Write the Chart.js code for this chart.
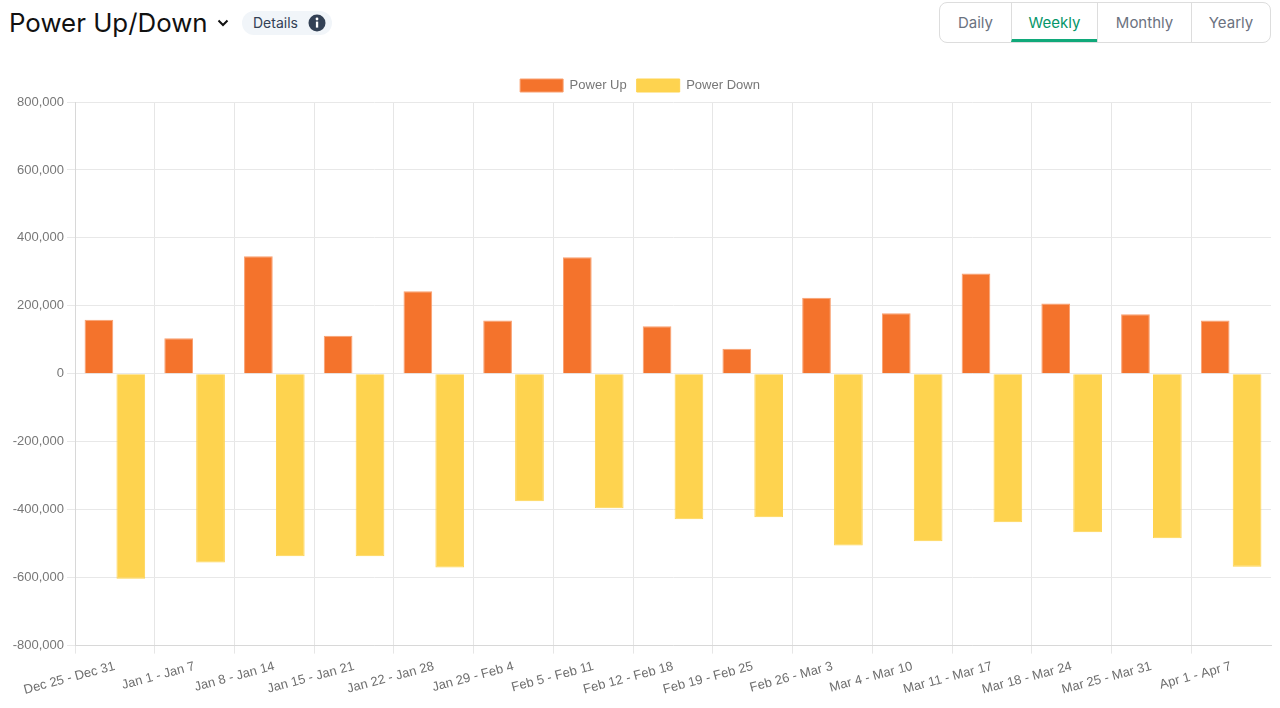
<!DOCTYPE html>
<html>
<head>
<meta charset="utf-8">
<title>Power Up/Down</title>
<script src="https://cdn.jsdelivr.net/npm/chart.js@4"></script>
<style>
    html, body { margin: 0; padding: 0; background: #fff; overflow: hidden; }
    body { width: 1280px; height: 708px; position: relative; font-family: Inter, sans-serif; }
    .title { position: absolute; left: 9px; top: 6px; font-size: 25.85px; line-height: 34px; color: #111; }
    .chevron { position: absolute; left: 217px; top: 18px; }
    .details { position: absolute; left: 242px; top: 11px; width: 90px; height: 24px; border-radius: 12px; background: #f1f5f9; font-size: 14px; line-height: 24px; color: #334155; }
    .details span { position: absolute; left: 11px; }
    .details svg { position: absolute; left: 66px; top: 3px; }
    .tabs { position: absolute; left: 939px; top: 2px; width: 332px; height: 41px; box-sizing: border-box; border: 1px solid #ddd; border-radius: 8px; display: flex; overflow: hidden; }
    .tabs div { box-sizing: border-box; text-align: center; font-size: 15px; line-height: 39px; color: #6b7280; border-left: 1px solid #ddd; }
    .tabs div:first-child { border-left: 0; }
    .tabs .active { color: #059669; border-bottom: 3px solid #10a97a; }
    #wrap { position: absolute; left: 0; top: 60px; width: 1280px; height: 648px; }
</style>
</head>
<body>
<div class="title">Power Up/Down</div>
<svg class="chevron" width="12" height="10" viewBox="0 0 12 10"><path d="M1.5 2.5 L6 7 L10.5 2.5" fill="none" stroke="#111" stroke-width="2"/></svg>
<div class="details"><span>Details</span>
    <svg width="18" height="18" viewBox="0 0 18 18"><circle cx="9" cy="9" r="8.5" fill="#334155"/><rect x="7.9" y="7.6" width="2.3" height="6" fill="#fff"/><circle cx="9" cy="5" r="1.4" fill="#fff"/></svg>
</div>
<div class="tabs">
    <div style="width:71px">Daily</div>
    <div class="active" style="width:86px">Weekly</div>
    <div style="width:94px">Monthly</div>
    <div style="width:79px">Yearly</div>
</div>
<div id="wrap"><canvas id="myChart"></canvas></div>
<script>
const weeks = ["Dec 25 - Dec 31", "Jan 1 - Jan 7", "Jan 8 - Jan 14", "Jan 15 - Jan 21", "Jan 22 - Jan 28", "Jan 29 - Feb 4", "Feb 5 - Feb 11", "Feb 12 - Feb 18", "Feb 19 - Feb 25", "Feb 26 - Mar 3", "Mar 4 - Mar 10", "Mar 11 - Mar 17", "Mar 18 - Mar 24", "Mar 25 - Mar 31", "Apr 1 - Apr 7"];
const powerUp = [159000, 105000, 346000, 112000, 243000, 157000, 343000, 140000, 74000, 224000, 178000, 295000, 207000, 175000, 157000];
const powerDown = [-603000, -555000, -537000, -537000, -570000, -375000, -396000, -428000, -422000, -505000, -493000, -437000, -466000, -484000, -568000];

Chart.defaults.font.family = "'Liberation Sans', Arial, sans-serif";
Chart.defaults.font.size = 13;

// the closing line on the far right has no tick context, the reference does not draw it
function xGridColor(ctx) {
    return ctx.tick ? "#e6e6e6" : "transparent";
}

new Chart(document.getElementById("myChart"), {
    type: "bar",
    data: {
        labels: weeks,
        datasets: [
            { label: "Power Up", data: powerUp, backgroundColor: "#f4732c", borderColor: "#f9a070", borderWidth: 1 },
            { label: "Power Down", data: powerDown, backgroundColor: "#fed34f", borderColor: "#fed34f", borderWidth: 1 }
        ]
    },
    options: {
        responsive: true,
        maintainAspectRatio: false,
        animation: false,
        layout: { padding: { top: 9, left: 9, right: 9, bottom: 5 } },
        plugins: {
            legend: { labels: { boxWidth: 43, boxHeight: 13, color: "#777" } },
            tooltip: { enabled: false }
        },
        scales: {
            x: {
                border: { color: "#d8d8d8" },
                grid: { color: xGridColor, tickColor: xGridColor },
                ticks: { color: "#6e6e6e", padding: 5, minRotation: 15, maxRotation: 15, autoSkip: false }
            },
            y: {
                min: -800000,
                max: 800000,
                afterFit: function(axis) { axis.width = 66; },
                border: { color: "#d8d8d8" },
                grid: { color: "#e8e8e8" },
                ticks: {
                    color: "#777",
                    stepSize: 200000,
                    callback: function(value) { return value.toLocaleString("en-US"); }
                }
            }
        }
    }
});
</script>
</body>
</html>
